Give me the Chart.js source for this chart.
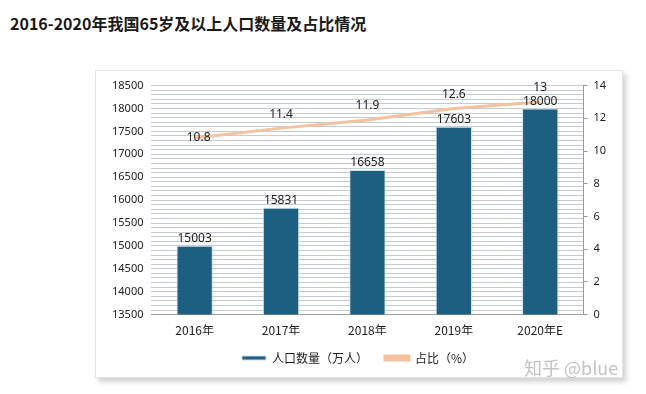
<!DOCTYPE html>
<html>
<head>
<meta charset="utf-8">
<script src="https://cdn.jsdelivr.net/npm/chart.js@4/dist/chart.umd.min.js"></script>
<style>
  html, body { margin: 0; padding: 0; background: #fff; }
  body { width: 646px; height: 394px; position: relative; overflow: hidden; }
  #title { position: absolute; left: 10px; top: 11px; font: bold 16px "Noto Sans CJK SC", sans-serif; color: #1a1a1a; white-space: nowrap; }
  #box { position: absolute; left: 95px; top: 70px; width: 526px; height: 306px; background: #fff;
         border: 1px solid #e4e4e4; box-shadow: 3px 4px 5px rgba(0,0,0,0.18); }
  #box canvas { position: absolute; left: 0; top: 0; }
  #mark { position: absolute; left: 524px; top: 354px; font: 18px "Noto Sans CJK SC", sans-serif; color: rgba(185,185,185,0.85); white-space: nowrap; }
</style>
</head>
<body>
<div id="title">2016-2020年我国65岁及以上人口数量及占比情况</div>
<div id="box"><canvas id="c" width="526" height="306"></canvas></div>
<div id="mark">知乎 @blue</div>
<script>
const years = ['2016年', '2017年', '2018年', '2019年', '2020年E'];
const population = [15003, 15831, 16658, 17603, 18000];
const share = [10.8, 11.4, 11.9, 12.6, 13];
const popLabel = '人口数量（万人）';
const shareLabel = '占比（%）';

const valueLabels = {
  id: 'valueLabels',
  afterDatasetsDraw(chart) {
    const ctx = chart.ctx;
    ctx.save();
    ctx.font = '12px "Noto Sans", sans-serif';
    ctx.fillStyle = '#222';
    ctx.textAlign = 'center';
    chart.getDatasetMeta(0).data.forEach((bar, i) => {
      ctx.textBaseline = 'bottom';
      ctx.fillText(population[i], bar.x, bar.y - 1);
    });
    chart.getDatasetMeta(1).data.forEach((pt, i) => {
      if (i === 0) {
        ctx.textBaseline = 'middle';
        ctx.fillText(share[i], pt.x + 4, pt.y);
      } else {
        ctx.textBaseline = 'bottom';
        ctx.fillText(share[i], pt.x, pt.y - 8);
      }
    });
    ctx.restore();
  }
};

new Chart(document.getElementById('c'), {
  data: {
    labels: years,
    datasets: [{
      type: 'bar',
      label: popLabel,
      data: population,
      yAxisID: 'y',
      backgroundColor: '#1d5f80',
      borderColor: '#c9dce8',
      borderWidth: 1,
      barPercentage: 0.42,
      categoryPercentage: 1,
      order: 2
    }, {
      type: 'line',
      label: shareLabel,
      data: share,
      yAxisID: 'y1',
      borderColor: '#f4c29f',
      backgroundColor: '#f4c29f',
      borderWidth: 3,
      pointRadius: 0,
      tension: 0,
      order: 1
    }]
  },
  options: {
    responsive: false,
    animation: false,
    layout: { padding: { left: 8, right: 10, top: 10, bottom: 3 } },
    plugins: {
      tooltip: { enabled: false },
      legend: {
        position: 'bottom',
        labels: {
          sort: (a, b) => a.datasetIndex - b.datasetIndex,
          boxWidth: 24,
          boxHeight: 4,
          padding: 17,
          color: '#222',
          font: { size: 12, family: '"Noto Sans CJK SC", sans-serif' }
        }
      }
    },
    scales: {
      x: {
        grid: { display: false, drawTicks: false },
        border: { color: '#9a9a9a' },
        ticks: { color: '#222', padding: 9, font: { size: 12, family: '"Noto Sans CJK SC", sans-serif' } },
        afterFit: scale => { scale.height -= 12; }
      },
      y: {
        position: 'left',
        min: 13500,
        max: 18500,
        grid: { color: '#c3ccd4', drawTicks: false },
        border: { display: false },
        ticks: {
          stepSize: 100,
          autoSkip: false,
          padding: 8,
          color: '#222',
          font: { size: 11, family: '"Noto Sans", sans-serif' },
          callback: v => (v % 500 === 0 ? v : '')
        }
      },
      y1: {
        position: 'right',
        min: 0,
        max: 14,
        grid: { drawOnChartArea: false, tickLength: 4, color: '#9a9a9a' },
        border: { color: '#9a9a9a' },
        ticks: {
          stepSize: 2,
          padding: 6,
          color: '#222',
          font: { size: 11, family: '"Noto Sans", sans-serif' }
        }
      }
    }
  },
  plugins: [valueLabels]
});
</script>
</body>
</html>
